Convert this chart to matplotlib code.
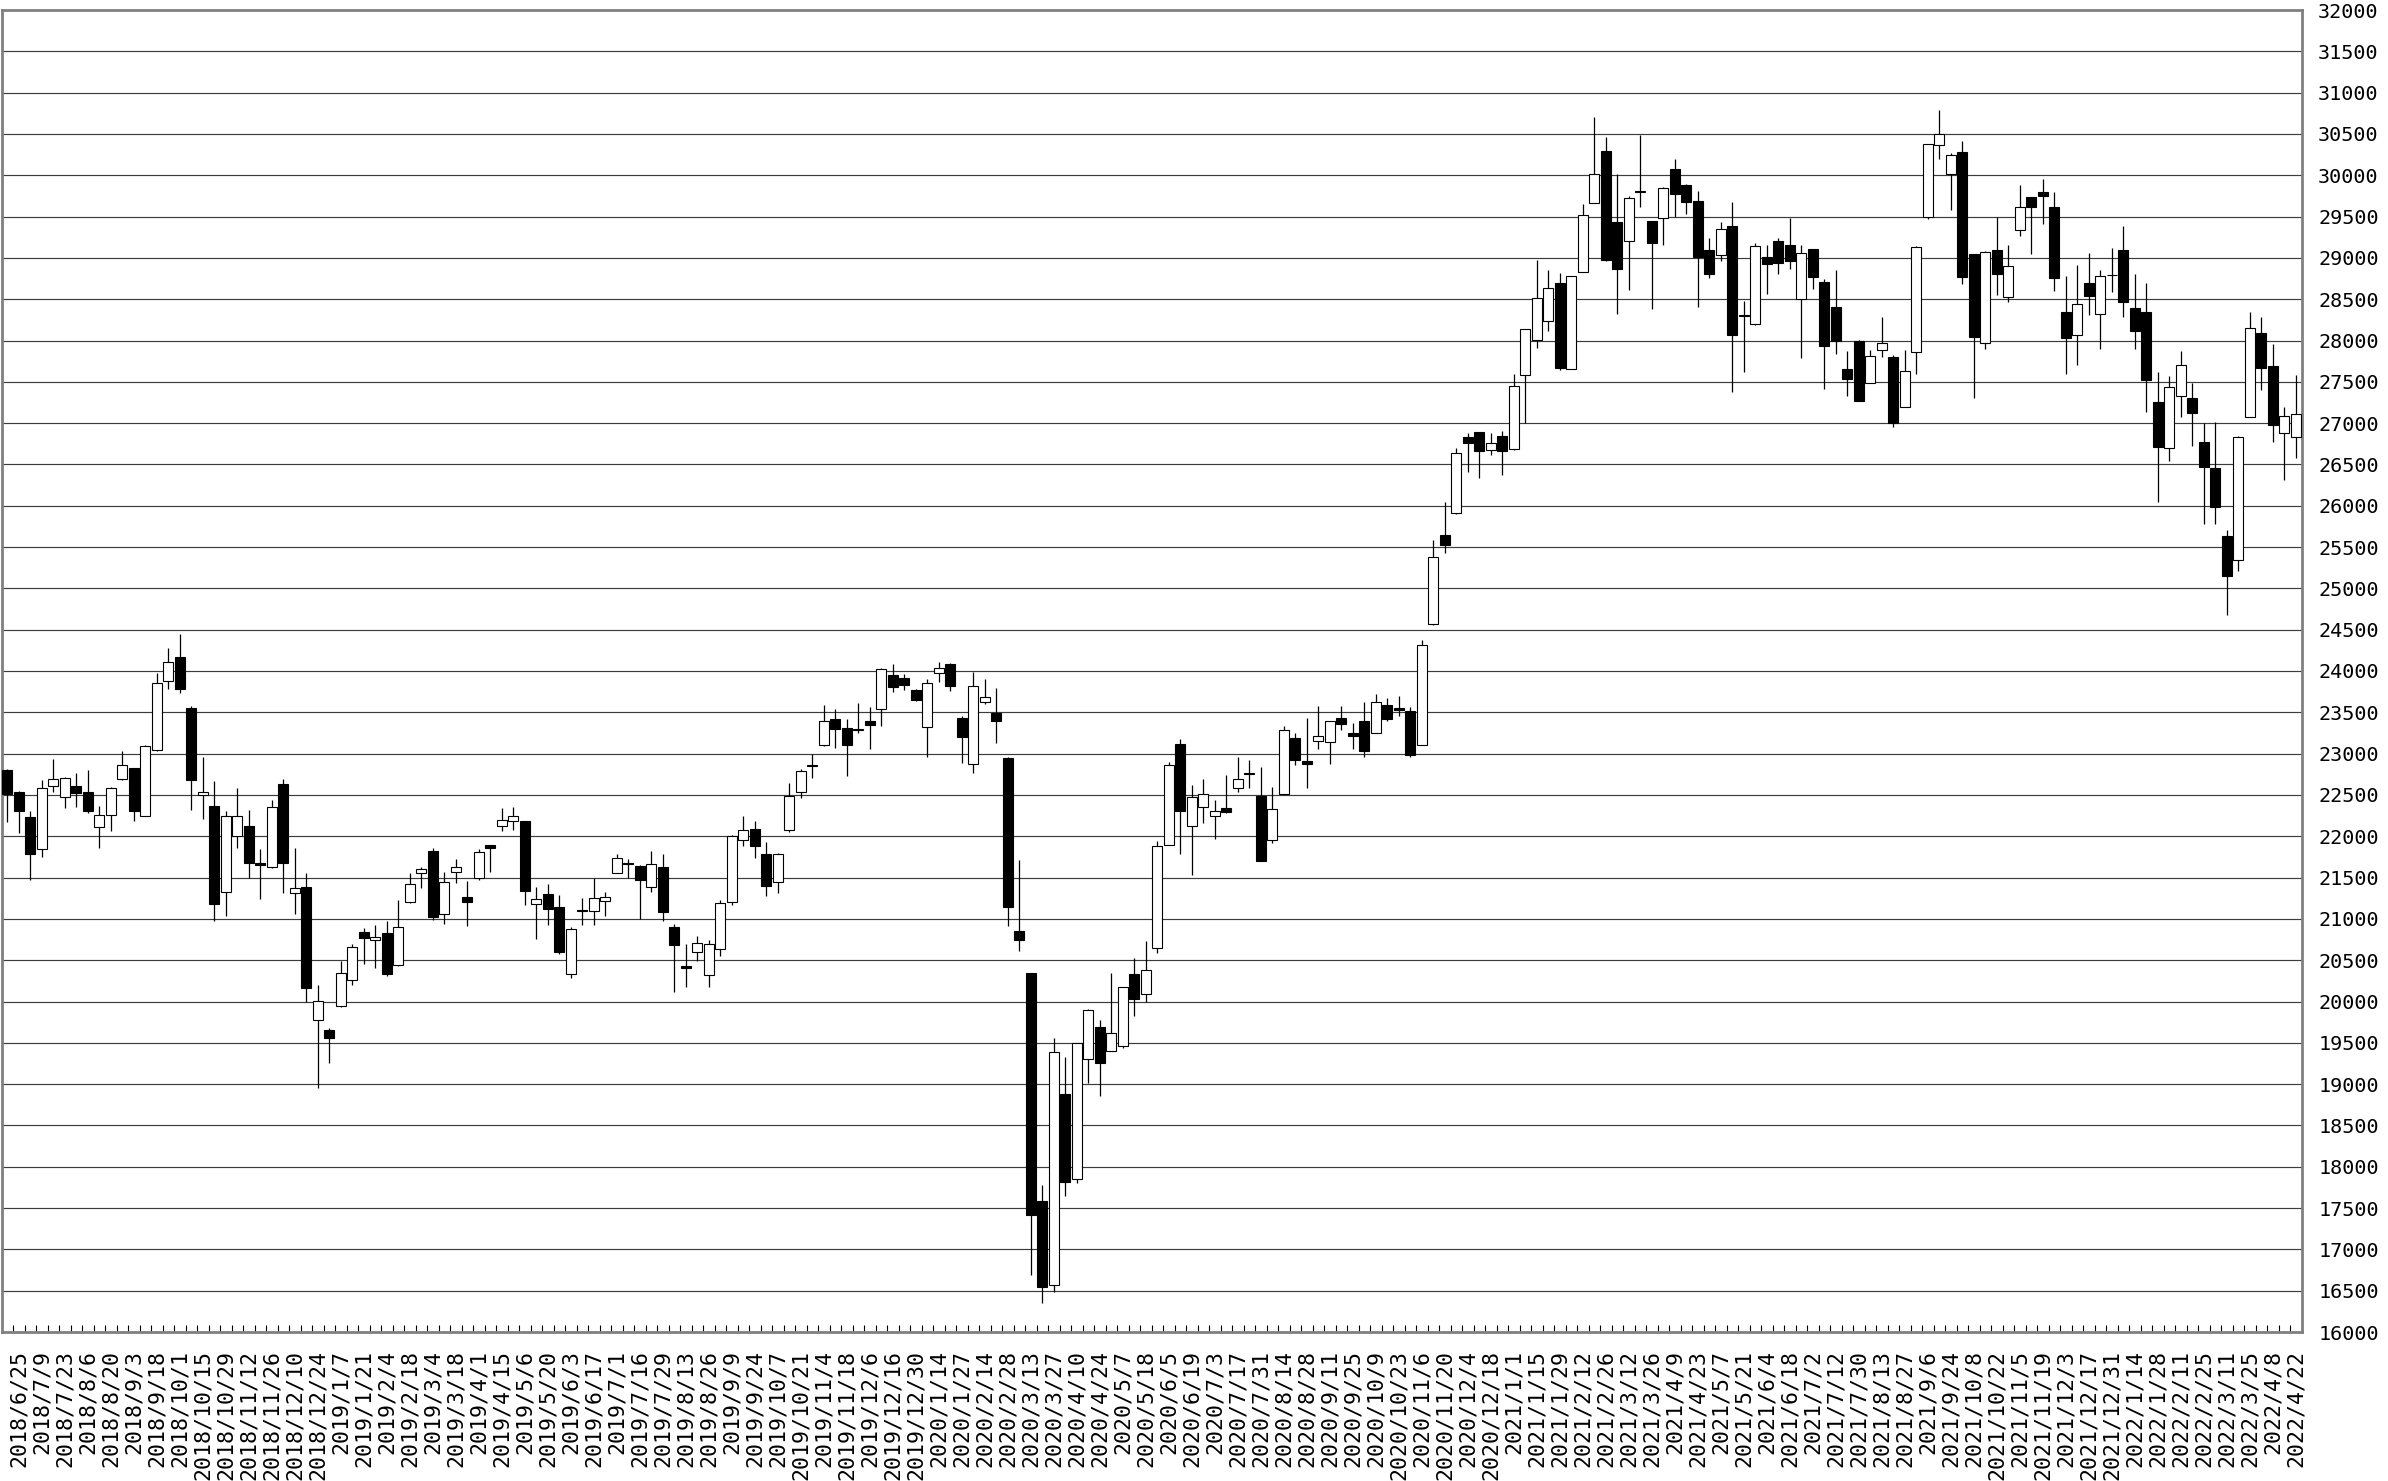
import matplotlib
matplotlib.use('Agg')
import matplotlib.pyplot as plt
import numpy as np

# ---- data (weekly OHLC) ----
opens = [22800,22540,22230,21840,22610,22470,22610,22530,22110,22260,22690,22820,22250,23040,23880,24170,23550,22500,22370,21320,
         22000,22120,21680,21630,22630,21310,21380,19780,19650,19940,20260,20840,20750,20830,20440,21210,21560,21820,21060,21570,
         21260,21490,21900,22120,22190,22180,21180,21300,21140,20330,21110,21090,21220,21560,21660,21640,21390,21630,20900,20430,
         20600,20320,20630,21200,21950,22090,21780,21450,22070,22540,22850,23110,23420,23310,23280,23390,23540,23950,23920,23770,
         23320,23970,24080,23430,22870,23630,23490,22950,20850,20340,17590,16570,18880,17850,19300,19690,19400,19460,20330,20090,
         20650,21900,23120,22130,22350,22250,22340,22590,22770,22490,21950,22510,23190,22910,23150,23140,23430,23250,23390,23250,
         23590,23550,23520,23100,24570,25650,25910,26830,26890,26670,26840,26690,27580,28010,28240,28700,27650,28830,29670,30290,
         29430,29210,29800,29450,29480,30080,29880,29690,29090,29030,29380,28300,28200,29010,29210,29150,28500,29110,28710,28400,
         27660,27990,27480,27880,27800,27190,27860,29490,30370,30020,30280,29050,27970,29100,28530,29340,29740,29800,29620,28340,
         28070,28700,28320,28790,29100,28390,28340,27260,26700,27330,27310,26770,26460,25630,25340,27080,28090,27690,26880,26830]
highs = [22810,22550,22310,22680,22940,22720,22770,22800,22370,22600,23030,22830,23100,23970,24280,24450,23580,22960,22670,22310,
         22580,22320,21850,22440,22690,21860,21550,20200,19680,20490,20690,20890,20930,20980,21230,21550,21630,21860,21570,21720,
         21460,21840,21900,22340,22360,22180,21390,21420,21290,20900,21250,21490,21330,21790,21720,21650,21820,21790,20940,20700,
         20790,20740,21230,22020,22250,22180,21930,21800,22640,22810,23000,23590,23540,23420,23610,23560,24040,24090,23960,23780,
         23900,24110,24100,23460,23990,23900,23800,22960,21710,20350,17780,19560,19330,19500,19910,19780,20350,20180,20530,20730,
         21940,22900,23180,22620,22690,22440,22740,22960,22920,22840,22600,23340,23250,23430,23580,23400,23580,23370,23620,23720,
         23670,23700,23570,24380,25590,26050,26700,26880,26890,26880,26910,27600,28140,28980,28850,28820,28780,29650,30710,30460,
         30010,29750,30490,29450,29860,30200,29890,29810,29240,29440,29680,28480,29180,29160,29240,29480,29160,29110,28740,28850,
         27870,28010,27880,28280,27820,27890,29140,30380,30790,30270,30420,29050,29080,29490,29160,29880,29740,29960,29800,28780,
         28910,29060,28850,29120,29390,28810,28690,27620,27570,27870,27480,27000,27010,25710,26850,28340,28280,27960,27200,27580]
lows = [22170,22040,21470,21750,22540,22340,22350,22280,21860,22060,22680,22180,22240,23030,23780,23730,22320,22210,20970,21040,
        21860,21490,21240,21620,21310,21060,19990,18950,19250,19930,20200,20450,20410,20310,20430,21190,21370,20990,20940,21430,
        20910,21470,21570,22060,22070,21170,20760,20920,20580,20280,20930,20930,21040,21550,21490,21000,21320,20970,20110,20180,
        20490,20180,20550,21170,21880,21740,21280,21310,22050,22460,22710,23090,23070,22730,23250,23050,23340,23750,23770,23640,
        22960,23870,23760,22890,22770,23600,23130,20910,20610,16690,16350,16480,17640,17800,19010,18860,19400,19440,19830,20000,
        20590,21900,21780,21530,22160,21970,22280,22540,22580,21700,21920,22500,22860,22590,23050,22880,23280,23050,22960,23250,
        23390,23450,22960,23100,24560,25430,25900,26410,26340,26610,26370,26670,27000,27910,28120,27640,27650,28830,29670,28960,
        28320,28610,29620,28380,29160,29500,29530,28410,28760,28960,27380,27620,28190,28560,28800,28870,27790,28620,27410,27840,
        27330,27270,27480,27800,26950,27190,27600,29470,30200,29580,28680,27300,27900,28550,28470,29260,29050,29410,28600,27590,
        27700,28310,27900,28590,28290,27900,27130,26050,26540,27080,26720,25780,25780,24680,25210,27070,27400,26770,26310,26580]
closes = [22510,22300,21780,22590,22690,22710,22520,22300,22260,22590,22860,22300,23090,23860,24110,23780,22680,22530,21180,22240,
          22250,21680,21650,22350,21680,21370,20160,20010,19560,20350,20660,20770,20780,20330,20900,21420,21600,21020,21450,21630,
          21200,21810,21860,22200,22250,21340,21240,21120,20600,20880,21090,21250,21270,21740,21680,21470,21660,21080,20680,20410,
          20710,20700,21190,22000,22070,21880,21400,21790,22490,22790,22860,23390,23300,23110,23300,23350,24020,23810,23830,23650,
          23850,24040,23820,23200,23820,23680,23390,21140,20740,17420,16550,19390,17820,19500,19900,19260,19620,20180,20030,20380,
          21880,22860,22300,22480,22510,22300,22290,22690,22750,21700,22330,23290,22920,22880,23210,23400,23360,23210,23030,23620,
          23420,23530,22980,24320,25380,25530,26640,26760,26660,26760,26660,27450,28140,28510,28630,27670,28780,29520,30020,28970,
          28860,29720,29810,29180,29850,29770,29680,29010,28810,29350,28070,28310,29140,28930,28940,28960,29060,28770,27930,27990,
          27540,27270,27810,27970,27000,27630,29130,30380,30500,30250,28770,28040,29070,28800,28900,29610,29610,29750,28760,28030,
          28440,28540,28780,28790,28470,28120,27520,26710,27440,27700,27120,26470,25980,25150,26830,28150,27670,26980,27090,27110]

dates = ["2018/6/25","2018/7/9","2018/7/23","2018/8/6","2018/8/20","2018/9/3","2018/9/18","2018/10/1","2018/10/15",
         "2018/10/29","2018/11/12","2018/11/26","2018/12/10","2018/12/24",
         "2019/1/7","2019/1/21","2019/2/4","2019/2/18","2019/3/4","2019/3/18","2019/4/1","2019/4/15","2019/5/6",
         "2019/5/20","2019/6/3","2019/6/17","2019/7/1","2019/7/16","2019/7/29","2019/8/13","2019/8/26","2019/9/9",
         "2019/9/24","2019/10/7","2019/10/21","2019/11/4","2019/11/18","2019/12/6","2019/12/16","2019/12/30",
         "2020/1/14","2020/1/27","2020/2/14","2020/2/28","2020/3/13","2020/3/27","2020/4/10","2020/4/24","2020/5/7",
         "2020/5/18","2020/6/5","2020/6/19","2020/7/3","2020/7/17","2020/7/31","2020/8/14","2020/8/28","2020/9/11",
         "2020/9/25","2020/10/9","2020/10/23","2020/11/6","2020/11/20","2020/12/4","2020/12/18",
         "2021/1/1","2021/1/15","2021/1/29","2021/2/12","2021/2/26","2021/3/12","2021/3/26","2021/4/9","2021/4/23",
         "2021/5/7","2021/5/21","2021/6/4","2021/6/18","2021/7/2","2021/7/12","2021/7/30","2021/8/13","2021/8/27",
         "2021/9/6","2021/9/24","2021/10/8","2021/10/22","2021/11/5","2021/11/19","2021/12/3","2021/12/17","2021/12/31",
         "2022/1/14","2022/1/28","2022/2/11","2022/2/25","2022/3/11","2022/3/25","2022/4/8","2022/4/22"]

yticks = list(range(16000, 32001, 500))

# ---- figure ----
W, H = 2388, 1481
fig = plt.figure(figsize=(W / 100, H / 100), dpi=100)
ax = fig.add_axes([1.5 / W, (H - 1332) / H, 2300 / W, 1322 / H])

o = np.array(opens, float)
c = np.array(closes, float)
hi = np.array(highs, float)
lo = np.array(lows, float)
x = np.arange(len(o))

for v in yticks[1:-1]:
    ax.axhline(v, color='#3c3c3c', lw=0.85, zorder=0)

ax.vlines(x, lo, hi, color='black', lw=0.9, zorder=2)
up = c >= o
bottoms = np.minimum(o, c)
heights = np.abs(c - o)
ax.bar(x[up], heights[up], bottom=bottoms[up], width=0.9, color='white',
       edgecolor='black', linewidth=0.8, zorder=3)
ax.bar(x[~up], heights[~up], bottom=bottoms[~up], width=0.9, color='black',
       edgecolor='black', linewidth=0.8, zorder=3)

ax.set_xlim(-0.5, len(o) - 0.5)
ax.set_ylim(16000, 32000)

ax.yaxis.tick_right()
ax.set_yticks(yticks)
ax.set_yticklabels([str(v) for v in yticks], family='DejaVu Sans Mono', fontsize=14.5)
ax.tick_params(axis='y', length=0, pad=12)

ax.set_xticks(x[1::2])
ax.set_xticklabels(dates, rotation=90, family='DejaVu Sans Mono', fontsize=15.5)
ax.tick_params(axis='x', which='major', length=0, pad=13)
ax.set_xticks(np.arange(-0.5, len(o), 1), minor=True)
ax.tick_params(axis='x', which='minor', direction='in', length=5, width=0.8, color='black')

for s in ax.spines.values():
    s.set_color('#808080')
    s.set_linewidth(2.0)

fig.savefig('out.png', dpi=100)
